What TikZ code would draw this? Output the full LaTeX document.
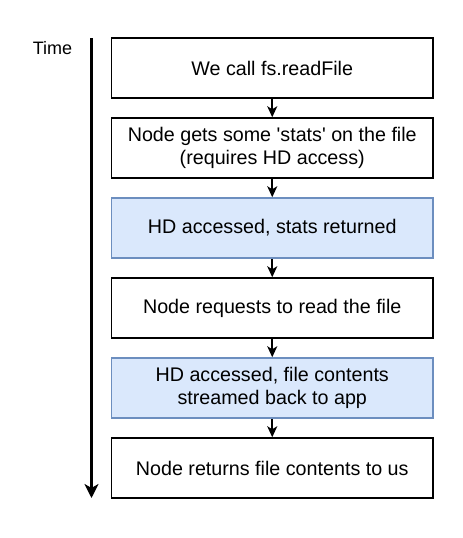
\documentclass[tikz,border=0pt]{standalone}
\usepackage{fontspec}
\setmainfont{Liberation Sans}
\usetikzlibrary{arrows.meta}
\definecolor{bluefill}{HTML}{DAE8FC}
\definecolor{bluestroke}{HTML}{6C8EBF}
\tikzset{
  stepbox/.style={draw=black, line width=1.5pt, fill=white, minimum width=321.5pt, minimum height=60pt, inner sep=0pt, align=center, font=\fontsize{19.7}{23.5}\selectfont},
  hdbox/.style={stepbox, draw=bluestroke, fill=bluefill},
  flow/.style={line width=1.6pt, -{Stealth[length=11pt,width=10pt,inset=3pt]}},
  timeline/.style={line width=3pt, -{Stealth[length=14pt,width=14pt,inset=4pt]}}
}
\begin{document}
\begin{tikzpicture}[x=1pt,y=-1pt]
\useasboundingbox (0,0) rectangle (463,538);
\node[stepbox] (b1) at (272.25,68) {We call fs.readFile};
\node[stepbox] (b2) at (272.25,148) {Node gets some \textquotesingle stats\textquotesingle{} on the file\\(requires HD access)};
\node[hdbox] (b3) at (272.25,228) {HD accessed, stats returned};
\node[stepbox] (b4) at (272.25,308) {Node requests to read the file};
\node[hdbox] (b5) at (272.25,388) {HD accessed, file contents\\streamed back to app};
\node[stepbox] (b6) at (272.25,468) {Node returns file contents to us};
\draw[flow] (b1) -- (b2);
\draw[flow] (b2) -- (b3);
\draw[flow] (b3) -- (b4);
\draw[flow] (b4) -- (b5);
\draw[flow] (b5) -- (b6);
\node[font=\fontsize{18}{22}\selectfont, anchor=center] (time) at (52.5,48) {Time};
\coordinate (ttop) at (91.5,38);
\coordinate (tbot) at (91.5,498);
\draw[timeline] (ttop) -- (tbot);
\end{tikzpicture}
\end{document}
